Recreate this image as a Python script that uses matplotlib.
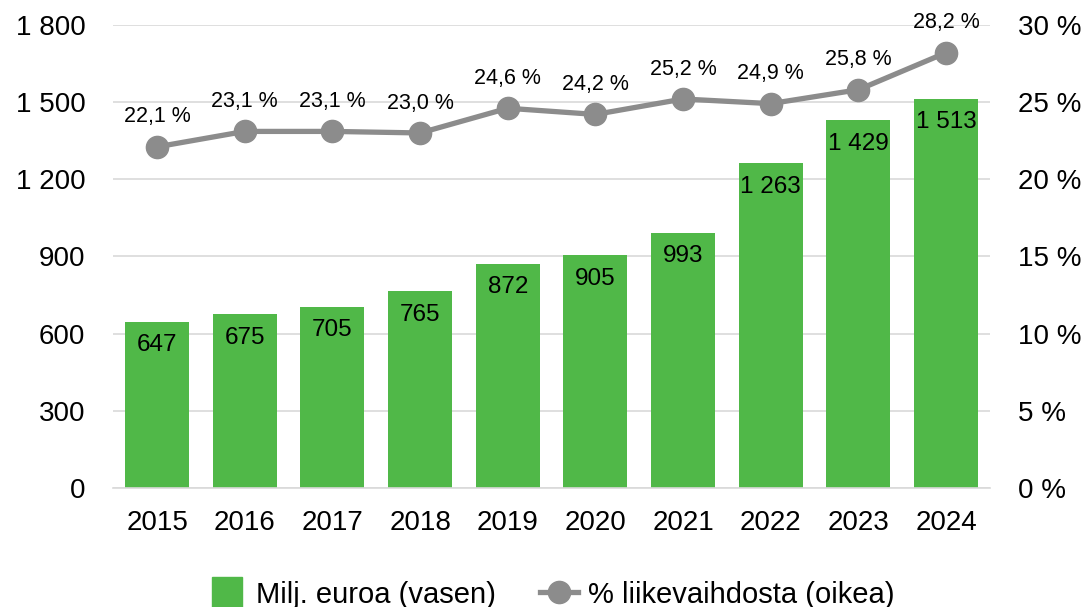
import matplotlib.pyplot as plt
from matplotlib.lines import Line2D
import numpy as np

plt.rcParams['font.family'] = ['Liberation Sans', 'DejaVu Sans']

years = ["2015", "2016", "2017", "2018", "2019", "2020", "2021", "2022", "2023", "2024"]
milj_euroa = [647, 675, 705, 765, 872, 905, 993, 1263, 1429, 1513]
osuus = [22.1, 23.1, 23.1, 23.0, 24.6, 24.2, 25.2, 24.9, 25.8, 28.2]

GREEN = "#50b848"
GREY = "#8c8c8c"


def fi_num(v):
    return f"{v:,}".replace(",", " ")


def fi_pct(v):
    return f"{v:.1f}".replace(".", ",") + " %"


fig = plt.figure(figsize=(10.89, 6.07), dpi=100)
ax = fig.add_axes([0.104, 0.196, 0.805, 0.763])
ax2 = ax.twinx()

x = np.arange(len(years))
ax.bar(x, milj_euroa, width=0.73, color=GREEN, zorder=2)
for xi, v in zip(x, milj_euroa):
    ax.annotate(fi_num(v), (xi, v), xytext=(0, -9), textcoords="offset points",
                ha="center", va="top", fontsize=17.5, color="black")

ax.set_xlim(-0.5, len(years) - 0.5)
ax.set_ylim(0, 1800)
ax.set_yticks(np.arange(0, 1801, 300))
ax.set_yticklabels([fi_num(t) for t in range(0, 1801, 300)])
ax.set_xticks(x)
ax.set_xticklabels(years)
ax.grid(axis="y", color="#d9d9d9", linewidth=1.2, zorder=0)
ax.set_axisbelow(True)

line, = ax2.plot(x, osuus, color=GREY, linewidth=3.8, marker="o",
                 markersize=16, zorder=3)
for xi, v in zip(x, osuus):
    ax2.annotate(fi_pct(v), (xi, v), xytext=(0, 14), textcoords="offset points",
                 ha="center", va="bottom", fontsize=15.5, color="black")
ax2.set_ylim(0, 30)
ax2.set_yticks(np.arange(0, 31, 5))
ax2.set_yticklabels([f"{t} %" for t in range(0, 31, 5)])

for a in (ax, ax2):
    for s in a.spines.values():
        s.set_visible(False)
    a.tick_params(length=0, labelsize=20)
ax.tick_params(axis="y", pad=20)
ax.tick_params(axis="x", pad=16)
ax2.tick_params(axis="y", pad=20)
ax.spines["bottom"].set_visible(True)
ax.spines["bottom"].set_color("#d9d9d9")
ax.spines["bottom"].set_linewidth(1.2)

# square swatch for the bars, line+marker for the share
bar_key = Line2D([], [], linestyle="none", marker="s", markersize=22,
                 markerfacecolor=GREEN, markeredgecolor=GREEN)
line_key = Line2D([], [], color=GREY, linewidth=3.8, marker="o", markersize=16)
fig.legend([bar_key, line_key], ["Milj. euroa (vasen)", "% liikevaihdosta (oikea)"],
           loc="lower center", bbox_to_anchor=(0.506, -0.046), ncol=2, frameon=False,
           fontsize=21, handlelength=1.3, handletextpad=0.35, columnspacing=1.5)

plt.savefig("out.png", dpi=100)
